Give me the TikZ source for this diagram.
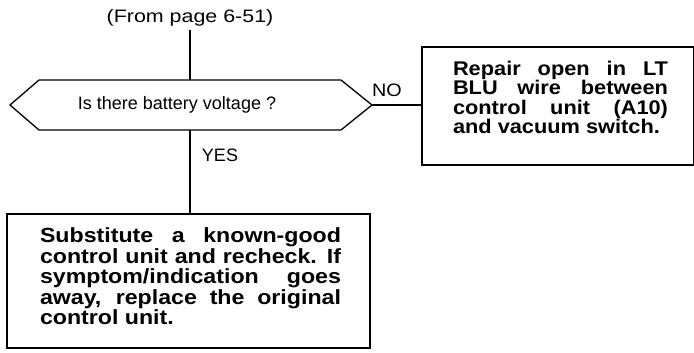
\documentclass[tikz,border=0pt]{standalone}
\usepackage{fontspec}
\setmainfont{Liberation Sans}
\newfontfamily\boldwide[FakeStretch=1.13]{Liberation Sans Bold}
\newfontfamily\boldwideb[FakeStretch=1.1]{Liberation Sans Bold}
\newfontfamily\regwide[FakeStretch=1.19]{Liberation Sans}
\newfontfamily\regno[FakeStretch=1.1]{Liberation Sans}
\begin{document}
\begin{tikzpicture}[x=1pt,y=-1pt,
  line width=1.3pt,
  boxst/.style={draw,rectangle,inner sep=0pt},
  boldtxt/.style={align=justify,inner sep=0pt},
  plaintxt/.style={font=\fontsize{18}{20}\selectfont,inner sep=0pt}]
\useasboundingbox (0,0) rectangle (694,353);
% top label
\node[plaintxt,font=\regwide\fontsize{18}{20}\selectfont] (from) at (190,18) {(From page 6-51)};
% decision hexagon
\coordinate (htop) at (190,80);
\coordinate (hbot) at (190,130);
\coordinate (hright) at (372,105);
\draw (10,105) -- (39,80) -- (341,80) -- (hright) -- (341,130) -- (39,130) -- cycle;
\node[plaintxt] (q) at (177,105) {Is there battery voltage ?};
% NO box
\node[boxst,minimum width=272pt,minimum height=118pt] (nobox) at (558,106) {};
\node[boldtxt,font=\boldwideb\fontsize{19.8}{19.5}\selectfont,text width=215pt] (notext) at (560.5,97.5) {Repair open in LT\linebreak BLU wire between\linebreak control unit (A10)\linebreak and vacuum switch.};
% YES box
\node[boxst,minimum width=363pt,minimum height=134pt] (yesbox) at (188.5,281) {};
\node[boldtxt,font=\boldwide\fontsize{20.5}{20.5}\selectfont,text width=301pt] (yestext) at (190.5,276.5) {Substitute a known-good\linebreak control unit and recheck. If\linebreak symptom/indication goes\linebreak away, replace the original\linebreak control unit.};
% connectors
\draw (from.south |- 0,30) -- (htop);
\draw (hright) -- (hright -| nobox.west);
\draw (hbot) -- (hbot |- yesbox.north);
% labels
\node[plaintxt,font=\regno\fontsize{18}{20}\selectfont] (nolab) at (387,90) {NO};
\node[plaintxt] (yeslab) at (220,155) {YES};
\end{tikzpicture}
\end{document}
